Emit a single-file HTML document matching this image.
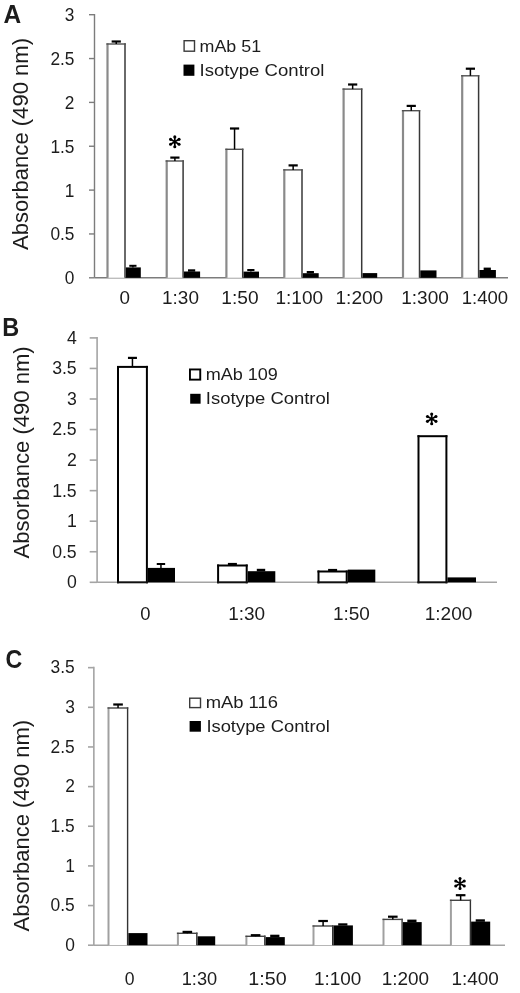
<!DOCTYPE html>
<html><head><meta charset="utf-8"><style>
html,body{margin:0;padding:0;background:#fff;width:520px;height:993px;overflow:hidden}
svg{display:block;filter:blur(0.3px)}
text{font-family:"Liberation Sans", sans-serif;fill:#1c1c1c}
</style></head><body>
<svg width="520" height="993" viewBox="0 0 520 993">
<rect x="0" y="0" width="520" height="993" fill="#fff"/>
<line x1="89.00" y1="277.80" x2="94.50" y2="277.80" stroke="#7c7c7c" stroke-width="1.4"/>
<text x="74.49" y="284.20" font-size="18.5" text-anchor="end" textLength="9.62" lengthAdjust="spacingAndGlyphs" >0</text>
<line x1="89.00" y1="233.95" x2="94.50" y2="233.95" stroke="#7c7c7c" stroke-width="1.4"/>
<text x="74.49" y="240.35" font-size="18.5" text-anchor="end" textLength="24.05" lengthAdjust="spacingAndGlyphs" >0.5</text>
<line x1="89.00" y1="190.10" x2="94.50" y2="190.10" stroke="#7c7c7c" stroke-width="1.4"/>
<text x="74.49" y="196.50" font-size="18.5" text-anchor="end" textLength="9.62" lengthAdjust="spacingAndGlyphs" >1</text>
<line x1="89.00" y1="146.25" x2="94.50" y2="146.25" stroke="#7c7c7c" stroke-width="1.4"/>
<text x="74.49" y="152.65" font-size="18.5" text-anchor="end" textLength="24.05" lengthAdjust="spacingAndGlyphs" >1.5</text>
<line x1="89.00" y1="102.40" x2="94.50" y2="102.40" stroke="#7c7c7c" stroke-width="1.4"/>
<text x="74.49" y="108.80" font-size="18.5" text-anchor="end" textLength="9.62" lengthAdjust="spacingAndGlyphs" >2</text>
<line x1="89.00" y1="58.55" x2="94.50" y2="58.55" stroke="#7c7c7c" stroke-width="1.4"/>
<text x="74.49" y="64.95" font-size="18.5" text-anchor="end" textLength="24.05" lengthAdjust="spacingAndGlyphs" >2.5</text>
<line x1="89.00" y1="14.70" x2="94.50" y2="14.70" stroke="#7c7c7c" stroke-width="1.4"/>
<text x="74.49" y="21.10" font-size="18.5" text-anchor="end" textLength="9.62" lengthAdjust="spacingAndGlyphs" >3</text>
<line x1="94.50" y1="14.00" x2="94.50" y2="277.80" stroke="#7c7c7c" stroke-width="1.4"/>
<line x1="94.50" y1="277.80" x2="508.00" y2="277.80" stroke="#7c7c7c" stroke-width="1.4"/>
<rect x="107.50" y="44.00" width="17.50" height="233.80" fill="#fff"/>
<rect x="125.75" y="267.40" width="15.05" height="10.40" fill="#000"/>
<line x1="107.50" y1="43.30" x2="107.50" y2="277.80" stroke="#8a8a8a" stroke-width="2.2"/>
<line x1="125.00" y1="43.30" x2="125.00" y2="277.80" stroke="#383838" stroke-width="1.5"/>
<line x1="106.40" y1="44.00" x2="125.75" y2="44.00" stroke="#505050" stroke-width="1.4"/>
<line x1="116.25" y1="44.00" x2="116.25" y2="41.50" stroke="#000" stroke-width="1.5"/>
<line x1="111.65" y1="41.50" x2="120.85" y2="41.50" stroke="#000" stroke-width="2.2"/>
<line x1="132.90" y1="267.40" x2="132.90" y2="265.80" stroke="#000" stroke-width="1.5"/>
<line x1="129.30" y1="265.80" x2="136.50" y2="265.80" stroke="#000" stroke-width="2.0"/>
<rect x="166.70" y="161.00" width="16.40" height="116.80" fill="#fff"/>
<rect x="183.85" y="271.50" width="16.25" height="6.30" fill="#000"/>
<line x1="166.70" y1="160.30" x2="166.70" y2="277.80" stroke="#8a8a8a" stroke-width="2.2"/>
<line x1="183.10" y1="160.30" x2="183.10" y2="277.80" stroke="#383838" stroke-width="1.5"/>
<line x1="165.60" y1="161.00" x2="183.85" y2="161.00" stroke="#505050" stroke-width="1.4"/>
<line x1="174.90" y1="161.00" x2="174.90" y2="157.60" stroke="#000" stroke-width="1.5"/>
<line x1="170.30" y1="157.60" x2="179.50" y2="157.60" stroke="#000" stroke-width="2.2"/>
<rect x="188.00" y="269.30" width="7.20" height="2.40" fill="#000"/>
<rect x="226.40" y="149.30" width="16.30" height="128.50" fill="#fff"/>
<rect x="243.45" y="271.60" width="15.55" height="6.20" fill="#000"/>
<line x1="226.40" y1="148.60" x2="226.40" y2="277.80" stroke="#8a8a8a" stroke-width="2.2"/>
<line x1="242.70" y1="148.60" x2="242.70" y2="277.80" stroke="#383838" stroke-width="1.5"/>
<line x1="225.30" y1="149.30" x2="243.45" y2="149.30" stroke="#505050" stroke-width="1.4"/>
<line x1="234.55" y1="149.30" x2="234.55" y2="128.50" stroke="#000" stroke-width="1.5"/>
<line x1="229.95" y1="128.50" x2="239.15" y2="128.50" stroke="#000" stroke-width="2.2"/>
<line x1="250.85" y1="271.60" x2="250.85" y2="270.00" stroke="#000" stroke-width="1.5"/>
<line x1="247.25" y1="270.00" x2="254.45" y2="270.00" stroke="#000" stroke-width="2.0"/>
<rect x="284.30" y="169.90" width="17.70" height="107.90" fill="#fff"/>
<rect x="302.75" y="273.20" width="15.95" height="4.60" fill="#000"/>
<line x1="284.30" y1="169.20" x2="284.30" y2="277.80" stroke="#8a8a8a" stroke-width="2.2"/>
<line x1="302.00" y1="169.20" x2="302.00" y2="277.80" stroke="#383838" stroke-width="1.5"/>
<line x1="283.20" y1="169.90" x2="302.75" y2="169.90" stroke="#505050" stroke-width="1.4"/>
<line x1="293.15" y1="169.90" x2="293.15" y2="165.40" stroke="#000" stroke-width="1.5"/>
<line x1="288.55" y1="165.40" x2="297.75" y2="165.40" stroke="#000" stroke-width="2.2"/>
<rect x="306.75" y="271.00" width="7.20" height="2.40" fill="#000"/>
<rect x="343.60" y="89.10" width="18.10" height="188.70" fill="#fff"/>
<rect x="362.45" y="273.10" width="14.75" height="4.70" fill="#000"/>
<line x1="343.60" y1="88.40" x2="343.60" y2="277.80" stroke="#8a8a8a" stroke-width="2.2"/>
<line x1="361.70" y1="88.40" x2="361.70" y2="277.80" stroke="#383838" stroke-width="1.5"/>
<line x1="342.50" y1="89.10" x2="362.45" y2="89.10" stroke="#505050" stroke-width="1.4"/>
<line x1="352.65" y1="89.10" x2="352.65" y2="84.50" stroke="#000" stroke-width="1.5"/>
<line x1="348.05" y1="84.50" x2="357.25" y2="84.50" stroke="#000" stroke-width="2.2"/>
<rect x="403.00" y="110.70" width="16.50" height="167.10" fill="#fff"/>
<rect x="420.25" y="270.40" width="16.25" height="7.40" fill="#000"/>
<line x1="403.00" y1="110.00" x2="403.00" y2="277.80" stroke="#8a8a8a" stroke-width="2.2"/>
<line x1="419.50" y1="110.00" x2="419.50" y2="277.80" stroke="#383838" stroke-width="1.5"/>
<line x1="401.90" y1="110.70" x2="420.25" y2="110.70" stroke="#505050" stroke-width="1.4"/>
<line x1="411.25" y1="110.70" x2="411.25" y2="105.90" stroke="#000" stroke-width="1.5"/>
<line x1="406.65" y1="105.90" x2="415.85" y2="105.90" stroke="#000" stroke-width="2.2"/>
<rect x="462.20" y="75.80" width="16.40" height="202.00" fill="#fff"/>
<rect x="479.35" y="270.00" width="16.55" height="7.80" fill="#000"/>
<line x1="462.20" y1="75.10" x2="462.20" y2="277.80" stroke="#8a8a8a" stroke-width="2.2"/>
<line x1="478.60" y1="75.10" x2="478.60" y2="277.80" stroke="#383838" stroke-width="1.5"/>
<line x1="461.10" y1="75.80" x2="479.35" y2="75.80" stroke="#505050" stroke-width="1.4"/>
<line x1="470.40" y1="75.80" x2="470.40" y2="68.70" stroke="#000" stroke-width="1.5"/>
<line x1="465.80" y1="68.70" x2="475.00" y2="68.70" stroke="#000" stroke-width="2.2"/>
<rect x="483.65" y="267.60" width="7.20" height="2.60" fill="#000"/>
<text x="119.45" y="303.70" font-size="18.5" text-anchor="start" textLength="10.48" lengthAdjust="spacingAndGlyphs" >0</text>
<text x="162.08" y="303.70" font-size="18.5" text-anchor="start" textLength="36.86" lengthAdjust="spacingAndGlyphs" >1:30</text>
<text x="221.36" y="303.70" font-size="18.5" text-anchor="start" textLength="37.28" lengthAdjust="spacingAndGlyphs" >1:50</text>
<text x="275.47" y="303.70" font-size="18.5" text-anchor="start" textLength="47.64" lengthAdjust="spacingAndGlyphs" >1:100</text>
<text x="335.47" y="303.70" font-size="18.5" text-anchor="start" textLength="47.75" lengthAdjust="spacingAndGlyphs" >1:200</text>
<text x="401.17" y="303.70" font-size="18.5" text-anchor="start" textLength="47.69" lengthAdjust="spacingAndGlyphs" >1:300</text>
<text x="461.71" y="303.70" font-size="18.5" text-anchor="start" textLength="46.39" lengthAdjust="spacingAndGlyphs" >1:400</text>
<text x="0.00" y="0.00" font-size="21.5" text-anchor="middle" textLength="212.00" lengthAdjust="spacingAndGlyphs" transform="translate(28.4,144) rotate(-90)">Absorbance (490 nm)</text>
<text x="3.49" y="22.60" font-size="25" text-anchor="start" font-weight="bold" fill="#000" textLength="17.68" lengthAdjust="spacingAndGlyphs" >A</text>
<rect x="184.10" y="40.70" width="10.40" height="10.50" fill="#fff" stroke="#3a3a3a" stroke-width="1.4"/>
<rect x="183.50" y="64.60" width="10.90" height="11.20" fill="#000"/>
<text x="199.60" y="51.60" font-size="16" text-anchor="start" textLength="61.48" lengthAdjust="spacingAndGlyphs" >mAb 51</text>
<text x="199.58" y="76.10" font-size="16" text-anchor="start" textLength="124.89" lengthAdjust="spacingAndGlyphs" >Isotype Control</text>
<path d="M174.80,136.90L174.80,146.70M170.56,139.35L179.04,144.25M179.04,139.35L170.56,144.25" stroke="#000" stroke-width="1.7" stroke-linecap="round" fill="none"/>
<circle cx="174.80" cy="146.70" r="1.55" fill="#000"/>
<circle cx="179.04" cy="144.25" r="1.55" fill="#000"/>
<circle cx="170.56" cy="144.25" r="1.55" fill="#000"/>
<circle cx="174.80" cy="136.90" r="1.55" fill="#000"/>
<circle cx="170.56" cy="139.35" r="1.55" fill="#000"/>
<circle cx="179.04" cy="139.35" r="1.55" fill="#000"/>
<line x1="89.70" y1="582.30" x2="97.10" y2="582.30" stroke="#a4a4a4" stroke-width="1.6"/>
<text x="76.71" y="588.20" font-size="18.5" text-anchor="end" textLength="9.83" lengthAdjust="spacingAndGlyphs" >0</text>
<line x1="89.70" y1="551.75" x2="97.10" y2="551.75" stroke="#a4a4a4" stroke-width="1.6"/>
<text x="76.71" y="557.65" font-size="18.5" text-anchor="end" textLength="24.56" lengthAdjust="spacingAndGlyphs" >0.5</text>
<line x1="89.70" y1="521.20" x2="97.10" y2="521.20" stroke="#a4a4a4" stroke-width="1.6"/>
<text x="76.71" y="527.10" font-size="18.5" text-anchor="end" textLength="9.83" lengthAdjust="spacingAndGlyphs" >1</text>
<line x1="89.70" y1="490.65" x2="97.10" y2="490.65" stroke="#a4a4a4" stroke-width="1.6"/>
<text x="76.71" y="496.55" font-size="18.5" text-anchor="end" textLength="24.56" lengthAdjust="spacingAndGlyphs" >1.5</text>
<line x1="89.70" y1="460.10" x2="97.10" y2="460.10" stroke="#a4a4a4" stroke-width="1.6"/>
<text x="76.71" y="466.00" font-size="18.5" text-anchor="end" textLength="9.83" lengthAdjust="spacingAndGlyphs" >2</text>
<line x1="89.70" y1="429.55" x2="97.10" y2="429.55" stroke="#a4a4a4" stroke-width="1.6"/>
<text x="76.71" y="435.45" font-size="18.5" text-anchor="end" textLength="24.56" lengthAdjust="spacingAndGlyphs" >2.5</text>
<line x1="89.70" y1="399.00" x2="97.10" y2="399.00" stroke="#a4a4a4" stroke-width="1.6"/>
<text x="76.71" y="404.90" font-size="18.5" text-anchor="end" textLength="9.83" lengthAdjust="spacingAndGlyphs" >3</text>
<line x1="89.70" y1="368.45" x2="97.10" y2="368.45" stroke="#a4a4a4" stroke-width="1.6"/>
<text x="76.71" y="374.35" font-size="18.5" text-anchor="end" textLength="24.56" lengthAdjust="spacingAndGlyphs" >3.5</text>
<line x1="89.70" y1="337.90" x2="97.10" y2="337.90" stroke="#a4a4a4" stroke-width="1.6"/>
<text x="76.71" y="343.80" font-size="18.5" text-anchor="end" textLength="9.83" lengthAdjust="spacingAndGlyphs" >4</text>
<line x1="97.10" y1="337.10" x2="97.10" y2="582.30" stroke="#a4a4a4" stroke-width="1.6"/>
<line x1="97.10" y1="582.30" x2="497.00" y2="582.30" stroke="#a4a4a4" stroke-width="1.6"/>
<rect x="118.00" y="366.90" width="28.90" height="215.40" fill="#fff"/>
<rect x="147.90" y="567.90" width="27.10" height="14.40" fill="#000"/>
<line x1="118.00" y1="365.90" x2="118.00" y2="583.30" stroke="#000" stroke-width="2.0"/>
<line x1="146.90" y1="365.90" x2="146.90" y2="583.30" stroke="#000" stroke-width="2.0"/>
<line x1="117.00" y1="366.90" x2="147.90" y2="366.90" stroke="#000" stroke-width="2.0"/>
<line x1="117.00" y1="582.30" x2="147.90" y2="582.30" stroke="#111" stroke-width="2.0"/>
<line x1="132.45" y1="366.90" x2="132.45" y2="357.90" stroke="#000" stroke-width="1.5"/>
<line x1="127.95" y1="357.90" x2="136.95" y2="357.90" stroke="#000" stroke-width="2.2"/>
<line x1="160.95" y1="567.90" x2="160.95" y2="564.00" stroke="#000" stroke-width="1.5"/>
<line x1="156.75" y1="564.00" x2="165.15" y2="564.00" stroke="#000" stroke-width="2.0"/>
<rect x="218.10" y="565.50" width="28.60" height="16.80" fill="#fff"/>
<rect x="247.70" y="571.20" width="27.60" height="11.10" fill="#000"/>
<line x1="218.10" y1="564.50" x2="218.10" y2="583.30" stroke="#000" stroke-width="2.0"/>
<line x1="246.70" y1="564.50" x2="246.70" y2="583.30" stroke="#000" stroke-width="2.0"/>
<line x1="217.10" y1="565.50" x2="247.70" y2="565.50" stroke="#000" stroke-width="2.0"/>
<line x1="217.10" y1="582.30" x2="247.70" y2="582.30" stroke="#111" stroke-width="2.0"/>
<line x1="232.40" y1="565.50" x2="232.40" y2="564.00" stroke="#000" stroke-width="1.5"/>
<line x1="227.90" y1="564.00" x2="236.90" y2="564.00" stroke="#000" stroke-width="2.2"/>
<rect x="256.80" y="568.80" width="8.40" height="2.60" fill="#000"/>
<rect x="318.50" y="571.50" width="28.20" height="10.80" fill="#fff"/>
<rect x="347.70" y="569.60" width="27.60" height="12.70" fill="#000"/>
<line x1="318.50" y1="570.50" x2="318.50" y2="583.30" stroke="#000" stroke-width="2.0"/>
<line x1="346.70" y1="570.50" x2="346.70" y2="583.30" stroke="#000" stroke-width="2.0"/>
<line x1="317.50" y1="571.50" x2="347.70" y2="571.50" stroke="#000" stroke-width="2.0"/>
<line x1="317.50" y1="582.30" x2="347.70" y2="582.30" stroke="#111" stroke-width="2.0"/>
<line x1="332.60" y1="571.50" x2="332.60" y2="570.00" stroke="#000" stroke-width="1.5"/>
<line x1="328.10" y1="570.00" x2="337.10" y2="570.00" stroke="#000" stroke-width="2.2"/>
<rect x="418.50" y="436.20" width="27.90" height="146.10" fill="#fff"/>
<rect x="447.40" y="577.40" width="28.60" height="4.90" fill="#000"/>
<line x1="418.50" y1="435.20" x2="418.50" y2="583.30" stroke="#000" stroke-width="2.0"/>
<line x1="446.40" y1="435.20" x2="446.40" y2="583.30" stroke="#000" stroke-width="2.0"/>
<line x1="417.50" y1="436.20" x2="447.40" y2="436.20" stroke="#000" stroke-width="2.0"/>
<line x1="417.50" y1="582.30" x2="447.40" y2="582.30" stroke="#111" stroke-width="2.0"/>
<text x="140.26" y="619.60" font-size="18.5" text-anchor="start" textLength="10.25" lengthAdjust="spacingAndGlyphs" >0</text>
<text x="228.18" y="619.60" font-size="18.5" text-anchor="start" textLength="36.96" lengthAdjust="spacingAndGlyphs" >1:30</text>
<text x="332.98" y="619.60" font-size="18.5" text-anchor="start" textLength="36.96" lengthAdjust="spacingAndGlyphs" >1:50</text>
<text x="424.67" y="619.60" font-size="18.5" text-anchor="start" textLength="47.75" lengthAdjust="spacingAndGlyphs" >1:200</text>
<text x="0.00" y="0.00" font-size="21.5" text-anchor="middle" textLength="212.00" lengthAdjust="spacingAndGlyphs" transform="translate(28.6,452.4) rotate(-90)">Absorbance (490 nm)</text>
<text x="2.21" y="336.20" font-size="25" text-anchor="start" font-weight="bold" fill="#000" textLength="16.99" lengthAdjust="spacingAndGlyphs" >B</text>
<rect x="189.95" y="369.45" width="10.30" height="10.20" fill="#fff" stroke="#000" stroke-width="1.9"/>
<rect x="190.20" y="393.80" width="10.40" height="9.90" fill="#000"/>
<text x="205.68" y="380.40" font-size="16" text-anchor="start" textLength="72.23" lengthAdjust="spacingAndGlyphs" >mAb 109</text>
<text x="205.79" y="404.40" font-size="16" text-anchor="start" textLength="124.07" lengthAdjust="spacingAndGlyphs" >Isotype Control</text>
<path d="M431.70,414.00L431.70,423.80M427.46,416.45L435.94,421.35M435.94,416.45L427.46,421.35" stroke="#000" stroke-width="1.7" stroke-linecap="round" fill="none"/>
<circle cx="431.70" cy="423.80" r="1.55" fill="#000"/>
<circle cx="435.94" cy="421.35" r="1.55" fill="#000"/>
<circle cx="427.46" cy="421.35" r="1.55" fill="#000"/>
<circle cx="431.70" cy="414.00" r="1.55" fill="#000"/>
<circle cx="427.46" cy="416.45" r="1.55" fill="#000"/>
<circle cx="435.94" cy="416.45" r="1.55" fill="#000"/>
<line x1="88.00" y1="945.20" x2="93.85" y2="945.20" stroke="#a4a4a4" stroke-width="1.6"/>
<text x="74.80" y="950.90" font-size="18.5" text-anchor="end" textLength="9.67" lengthAdjust="spacingAndGlyphs" >0</text>
<line x1="88.00" y1="905.55" x2="93.85" y2="905.55" stroke="#a4a4a4" stroke-width="1.6"/>
<text x="74.80" y="911.25" font-size="18.5" text-anchor="end" textLength="24.18" lengthAdjust="spacingAndGlyphs" >0.5</text>
<line x1="88.00" y1="865.90" x2="93.85" y2="865.90" stroke="#a4a4a4" stroke-width="1.6"/>
<text x="74.80" y="871.60" font-size="18.5" text-anchor="end" textLength="9.67" lengthAdjust="spacingAndGlyphs" >1</text>
<line x1="88.00" y1="826.25" x2="93.85" y2="826.25" stroke="#a4a4a4" stroke-width="1.6"/>
<text x="74.80" y="831.95" font-size="18.5" text-anchor="end" textLength="24.18" lengthAdjust="spacingAndGlyphs" >1.5</text>
<line x1="88.00" y1="786.60" x2="93.85" y2="786.60" stroke="#a4a4a4" stroke-width="1.6"/>
<text x="74.80" y="792.30" font-size="18.5" text-anchor="end" textLength="9.67" lengthAdjust="spacingAndGlyphs" >2</text>
<line x1="88.00" y1="746.95" x2="93.85" y2="746.95" stroke="#a4a4a4" stroke-width="1.6"/>
<text x="74.80" y="752.65" font-size="18.5" text-anchor="end" textLength="24.18" lengthAdjust="spacingAndGlyphs" >2.5</text>
<line x1="88.00" y1="707.30" x2="93.85" y2="707.30" stroke="#a4a4a4" stroke-width="1.6"/>
<text x="74.80" y="713.00" font-size="18.5" text-anchor="end" textLength="9.67" lengthAdjust="spacingAndGlyphs" >3</text>
<line x1="88.00" y1="667.65" x2="93.85" y2="667.65" stroke="#a4a4a4" stroke-width="1.6"/>
<text x="74.80" y="673.35" font-size="18.5" text-anchor="end" textLength="24.18" lengthAdjust="spacingAndGlyphs" >3.5</text>
<line x1="93.85" y1="666.85" x2="93.85" y2="945.20" stroke="#a4a4a4" stroke-width="1.6"/>
<line x1="93.85" y1="945.20" x2="505.00" y2="945.20" stroke="#a4a4a4" stroke-width="1.6"/>
<rect x="108.50" y="708.00" width="19.10" height="237.20" fill="#fff"/>
<rect x="128.30" y="933.10" width="19.20" height="12.10" fill="#000"/>
<line x1="108.50" y1="707.30" x2="108.50" y2="945.20" stroke="#a0a0a0" stroke-width="2.0"/>
<line x1="127.60" y1="707.30" x2="127.60" y2="945.20" stroke="#333" stroke-width="1.4"/>
<line x1="107.50" y1="708.00" x2="128.30" y2="708.00" stroke="#444" stroke-width="1.4"/>
<line x1="118.05" y1="708.00" x2="118.05" y2="704.50" stroke="#000" stroke-width="1.5"/>
<line x1="113.25" y1="704.50" x2="122.85" y2="704.50" stroke="#000" stroke-width="2.2"/>
<rect x="177.90" y="933.30" width="18.90" height="11.90" fill="#fff"/>
<rect x="197.50" y="936.30" width="17.70" height="8.90" fill="#000"/>
<line x1="177.90" y1="932.60" x2="177.90" y2="945.20" stroke="#a0a0a0" stroke-width="2.0"/>
<line x1="196.80" y1="932.60" x2="196.80" y2="945.20" stroke="#333" stroke-width="1.4"/>
<line x1="176.90" y1="933.30" x2="197.50" y2="933.30" stroke="#444" stroke-width="1.4"/>
<line x1="187.35" y1="933.30" x2="187.35" y2="931.90" stroke="#000" stroke-width="1.5"/>
<line x1="182.55" y1="931.90" x2="192.15" y2="931.90" stroke="#000" stroke-width="2.2"/>
<rect x="246.40" y="936.30" width="18.40" height="8.90" fill="#fff"/>
<rect x="265.50" y="937.10" width="19.30" height="8.10" fill="#000"/>
<line x1="246.40" y1="935.60" x2="246.40" y2="945.20" stroke="#a0a0a0" stroke-width="2.0"/>
<line x1="264.80" y1="935.60" x2="264.80" y2="945.20" stroke="#333" stroke-width="1.4"/>
<line x1="245.40" y1="936.30" x2="265.50" y2="936.30" stroke="#444" stroke-width="1.4"/>
<line x1="255.60" y1="936.30" x2="255.60" y2="935.20" stroke="#000" stroke-width="1.5"/>
<line x1="250.80" y1="935.20" x2="260.40" y2="935.20" stroke="#000" stroke-width="2.2"/>
<rect x="270.20" y="934.70" width="9.20" height="2.60" fill="#000"/>
<rect x="313.50" y="926.00" width="19.20" height="19.20" fill="#fff"/>
<rect x="333.40" y="925.40" width="19.50" height="19.80" fill="#000"/>
<line x1="313.50" y1="925.30" x2="313.50" y2="945.20" stroke="#a0a0a0" stroke-width="2.0"/>
<line x1="332.70" y1="925.30" x2="332.70" y2="945.20" stroke="#333" stroke-width="1.4"/>
<line x1="312.50" y1="926.00" x2="333.40" y2="926.00" stroke="#444" stroke-width="1.4"/>
<line x1="323.10" y1="926.00" x2="323.10" y2="921.00" stroke="#000" stroke-width="1.5"/>
<line x1="318.30" y1="921.00" x2="327.90" y2="921.00" stroke="#000" stroke-width="2.2"/>
<rect x="338.20" y="923.30" width="9.20" height="2.30" fill="#000"/>
<rect x="383.50" y="919.40" width="18.60" height="25.80" fill="#fff"/>
<rect x="402.80" y="922.10" width="18.90" height="23.10" fill="#000"/>
<line x1="383.50" y1="918.70" x2="383.50" y2="945.20" stroke="#a0a0a0" stroke-width="2.0"/>
<line x1="402.10" y1="918.70" x2="402.10" y2="945.20" stroke="#333" stroke-width="1.4"/>
<line x1="382.50" y1="919.40" x2="402.80" y2="919.40" stroke="#444" stroke-width="1.4"/>
<line x1="392.80" y1="919.40" x2="392.80" y2="916.70" stroke="#000" stroke-width="1.5"/>
<line x1="388.00" y1="916.70" x2="397.60" y2="916.70" stroke="#000" stroke-width="2.2"/>
<rect x="407.30" y="919.60" width="9.20" height="2.70" fill="#000"/>
<rect x="450.90" y="900.30" width="19.50" height="44.90" fill="#fff"/>
<rect x="471.10" y="921.60" width="19.10" height="23.60" fill="#000"/>
<line x1="450.90" y1="899.60" x2="450.90" y2="945.20" stroke="#a0a0a0" stroke-width="2.0"/>
<line x1="470.40" y1="899.60" x2="470.40" y2="945.20" stroke="#333" stroke-width="1.4"/>
<line x1="449.90" y1="900.30" x2="471.10" y2="900.30" stroke="#444" stroke-width="1.4"/>
<line x1="460.65" y1="900.30" x2="460.65" y2="895.20" stroke="#000" stroke-width="1.5"/>
<line x1="455.85" y1="895.20" x2="465.45" y2="895.20" stroke="#000" stroke-width="2.2"/>
<rect x="475.70" y="919.30" width="9.20" height="2.50" fill="#000"/>
<text x="124.70" y="984.60" font-size="18.5" text-anchor="start" textLength="9.78" lengthAdjust="spacingAndGlyphs" >0</text>
<text x="181.73" y="984.60" font-size="18.5" text-anchor="start" textLength="35.48" lengthAdjust="spacingAndGlyphs" >1:30</text>
<text x="248.32" y="984.60" font-size="18.5" text-anchor="start" textLength="38.34" lengthAdjust="spacingAndGlyphs" >1:50</text>
<text x="313.98" y="984.60" font-size="18.5" text-anchor="start" textLength="47.43" lengthAdjust="spacingAndGlyphs" >1:100</text>
<text x="381.68" y="984.60" font-size="18.5" text-anchor="start" textLength="47.43" lengthAdjust="spacingAndGlyphs" >1:200</text>
<text x="451.48" y="984.60" font-size="18.5" text-anchor="start" textLength="47.43" lengthAdjust="spacingAndGlyphs" >1:400</text>
<text x="0.00" y="0.00" font-size="21.5" text-anchor="middle" textLength="211.50" lengthAdjust="spacingAndGlyphs" transform="translate(28.9,825.7) rotate(-90)">Absorbance (490 nm)</text>
<text x="5.47" y="668.20" font-size="25" text-anchor="start" font-weight="bold" fill="#000" textLength="16.76" lengthAdjust="spacingAndGlyphs" >C</text>
<rect x="189.70" y="698.20" width="10.80" height="9.40" fill="#fff" stroke="#3a3a3a" stroke-width="1.4"/>
<rect x="189.60" y="721.00" width="11.30" height="10.70" fill="#000"/>
<text x="205.66" y="708.30" font-size="16" text-anchor="start" textLength="72.24" lengthAdjust="spacingAndGlyphs" >mAb 116</text>
<text x="206.40" y="731.90" font-size="16" text-anchor="start" textLength="123.45" lengthAdjust="spacingAndGlyphs" >Isotype Control</text>
<path d="M460.00,878.60L460.00,888.40M455.76,881.05L464.24,885.95M464.24,881.05L455.76,885.95" stroke="#000" stroke-width="1.7" stroke-linecap="round" fill="none"/>
<circle cx="460.00" cy="888.40" r="1.55" fill="#000"/>
<circle cx="464.24" cy="885.95" r="1.55" fill="#000"/>
<circle cx="455.76" cy="885.95" r="1.55" fill="#000"/>
<circle cx="460.00" cy="878.60" r="1.55" fill="#000"/>
<circle cx="455.76" cy="881.05" r="1.55" fill="#000"/>
<circle cx="464.24" cy="881.05" r="1.55" fill="#000"/>
</svg>
</body></html>
